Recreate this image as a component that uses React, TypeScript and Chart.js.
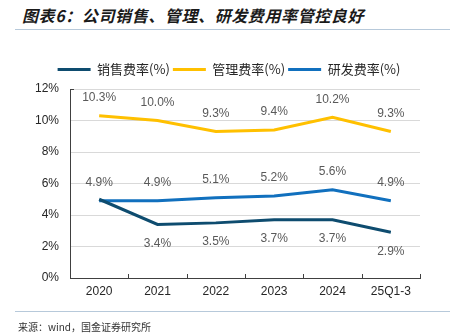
import React, { useEffect, useRef } from "react";
import { Chart, registerables } from "chart.js";

Chart.register(...registerables);

const categories = ["2020", "2021", "2022", "2023", "2024", "25Q1-3"];
const salesRate = [5.0, 3.4, 3.5, 3.7, 3.7, 2.9];
const salesLabels = [null, "3.4%", "3.5%", "3.7%", "3.7%", "2.9%"];
const mgmtRate = [10.3, 10.0, 9.3, 9.4, 10.2, 9.3];
const mgmtLabels = ["10.3%", "10.0%", "9.3%", "9.4%", "10.2%", "9.3%"];
const rdRate = [4.9, 4.9, 5.1, 5.2, 5.6, 4.9];
const rdLabels = ["4.9%", "4.9%", "5.1%", "5.2%", "5.6%", "4.9%"];
const yTicks = [0, 2, 4, 6, 8, 10, 12];

const TICK_FONT = "'Liberation Sans', Arial, sans-serif";
const CJK_FONT = "'Noto Sans CJK SC', sans-serif";

const valueLabelPlugin = {
  id: "valueLabels",
  afterDatasetsDraw(chart: any) {
    const ctx = chart.ctx;
    ctx.save();
    ctx.font = `12px ${TICK_FONT}`;
    ctx.fillStyle = "#595959";
    ctx.textAlign = "center";
    ctx.textBaseline = "middle";
    chart.data.datasets.forEach((ds: any, di: number) => {
      const meta = chart.getDatasetMeta(di);
      meta.data.forEach((pt: any, i: number) => {
        const lbl = ds.valueLabels[i];
        if (!lbl) return;
        ctx.fillText(lbl, pt.x, pt.y + ds.labelOffset);
      });
    });
    ctx.restore();
  },
};

const axisTickPlugin = {
  id: "axisTicks",
  afterDraw(chart: any) {
    const ctx = chart.ctx;
    const xs = chart.scales.x;
    const area = chart.chartArea;
    const step = xs.getPixelForValue(1) - xs.getPixelForValue(0);
    ctx.save();
    ctx.strokeStyle = "#404040";
    ctx.lineWidth = 1;
    ctx.beginPath();
    for (let i = 0; i < categories.length; i++) {
      const x = Math.round(xs.getPixelForValue(i) + step / 2) + 0.5;
      ctx.moveTo(x, area.bottom);
      ctx.lineTo(x, area.bottom - 4);
    }
    ctx.moveTo(area.left, Math.round(area.top) + 0.5);
    ctx.lineTo(area.left + 4, Math.round(area.top) + 0.5);
    ctx.stroke();
    ctx.restore();
  },
};

const legendFitPlugin = {
  id: "legendFit",
  beforeInit(chart: any) {
    const legend = chart.legend;
    const origFit = legend.fit;
    legend.fit = function () {
      origFit.call(this);
      this.height = 29;
    };
    const origDraw = legend.draw;
    legend.draw = function (...args: any[]) {
      const ctx = chart.ctx;
      ctx.save();
      ctx.translate(19, 0);
      origDraw.apply(this, args);
      ctx.restore();
    };
  },
};

export default function App() {
  const ref = useRef<HTMLCanvasElement>(null);

  useEffect(() => {
    document.body.style.margin = "0";
    const chart = new Chart(ref.current as HTMLCanvasElement, {
      type: "line",
      data: {
        labels: categories,
        datasets: [
          {
            label: "销售费率(%)",
            data: salesRate,
            borderColor: "#0E4C6F",
            backgroundColor: "#0E4C6F",
            borderWidth: 3,
            pointRadius: 0,
            tension: 0,
            valueLabels: salesLabels,
            labelOffset: 19,
          } as any,
          {
            label: "管理费率(%)",
            data: mgmtRate,
            borderColor: "#FFC000",
            backgroundColor: "#FFC000",
            borderWidth: 3,
            pointRadius: 0,
            tension: 0,
            valueLabels: mgmtLabels,
            labelOffset: -18,
          } as any,
          {
            label: "研发费率(%)",
            data: rdRate,
            borderColor: "#1170BE",
            backgroundColor: "#1170BE",
            borderWidth: 3,
            pointRadius: 0,
            tension: 0,
            valueLabels: rdLabels,
            labelOffset: -18,
          } as any,
        ],
      },
      options: {
        animation: false,
        responsive: false,
        maintainAspectRatio: false,
        layout: { padding: { left: 0, right: 30, top: 60, bottom: 28 } },
        plugins: {
          legend: {
            position: "top",
            labels: {
              boxWidth: 33,
              boxHeight: 3,
              padding: 3,
              color: "#262626",
              font: { size: 13, family: CJK_FONT },
              generateLabels(chart: any) {
                return chart.data.datasets.map((ds: any, i: number) => ({
                  text: ds.label,
                  fillStyle: ds.borderColor,
                  strokeStyle: ds.borderColor,
                  lineWidth: 0,
                  hidden: false,
                  datasetIndex: i,
                  fontColor: "#262626",
                }));
              },
            },
          },
          tooltip: { enabled: false },
        },
        scales: {
          x: {
            offset: true,
            grid: { display: false, drawTicks: false, offset: true },
            border: { display: true, color: "#404040", width: 1 },
            ticks: {
              padding: 6,
              color: "#262626",
              font: { size: 12, family: TICK_FONT },
              maxRotation: 0,
            },
            afterFit(scale: any) {
              scale.height = 30;
            },
          },
          y: {
            min: 0,
            max: 12,
            afterBuildTicks(scale: any) {
              scale.ticks = yTicks.map((v) => ({ value: v }));
            },
            grid: { color: "#D9D9D9", lineWidth: 1, drawTicks: false },
            border: { display: true, color: "#404040", width: 1 },
            ticks: {
              padding: 11,
              color: "#262626",
              font: { size: 12, family: TICK_FONT },
              callback: (v: any) => `${v}%`,
            },
            afterFit(scale: any) {
              scale.width = 70;
            },
          },
        },
      },
      plugins: [valueLabelPlugin, axisTickPlugin, legendFitPlugin],
    });
    return () => chart.destroy();
  }, []);

  return (
    <div style={{ position: "relative", width: 450, height: 336, background: "#fff", overflow: "hidden" }}>
      <div
        style={{
          position: "absolute",
          left: 22,
          top: 3,
          fontFamily: CJK_FONT,
          fontWeight: "bold",
          fontStyle: "italic",
          fontSize: 16,
          letterSpacing: "0.6px",
          lineHeight: "24px",
          color: "#1a1a1a",
          whiteSpace: "nowrap",
        }}
      >
        图表6：公司销售、管理、研发费用率管控良好
      </div>
      <div style={{ position: "absolute", left: 15, top: 29, width: 435, height: 1, background: "#B7C9DA" }} />
      <canvas ref={ref} width={450} height={336} style={{ position: "absolute", left: 0, top: 0 }} />
      <div style={{ position: "absolute", left: 15, top: 311, width: 435, height: 1, background: "#B7C9DA" }} />
      <div
        style={{
          position: "absolute",
          left: 18,
          top: 319,
          fontFamily: CJK_FONT,
          fontSize: 10,
          lineHeight: "16px",
          color: "#333",
          whiteSpace: "nowrap",
        }}
      >
        来源：wind，国金证券研究所
      </div>
    </div>
  );
}
